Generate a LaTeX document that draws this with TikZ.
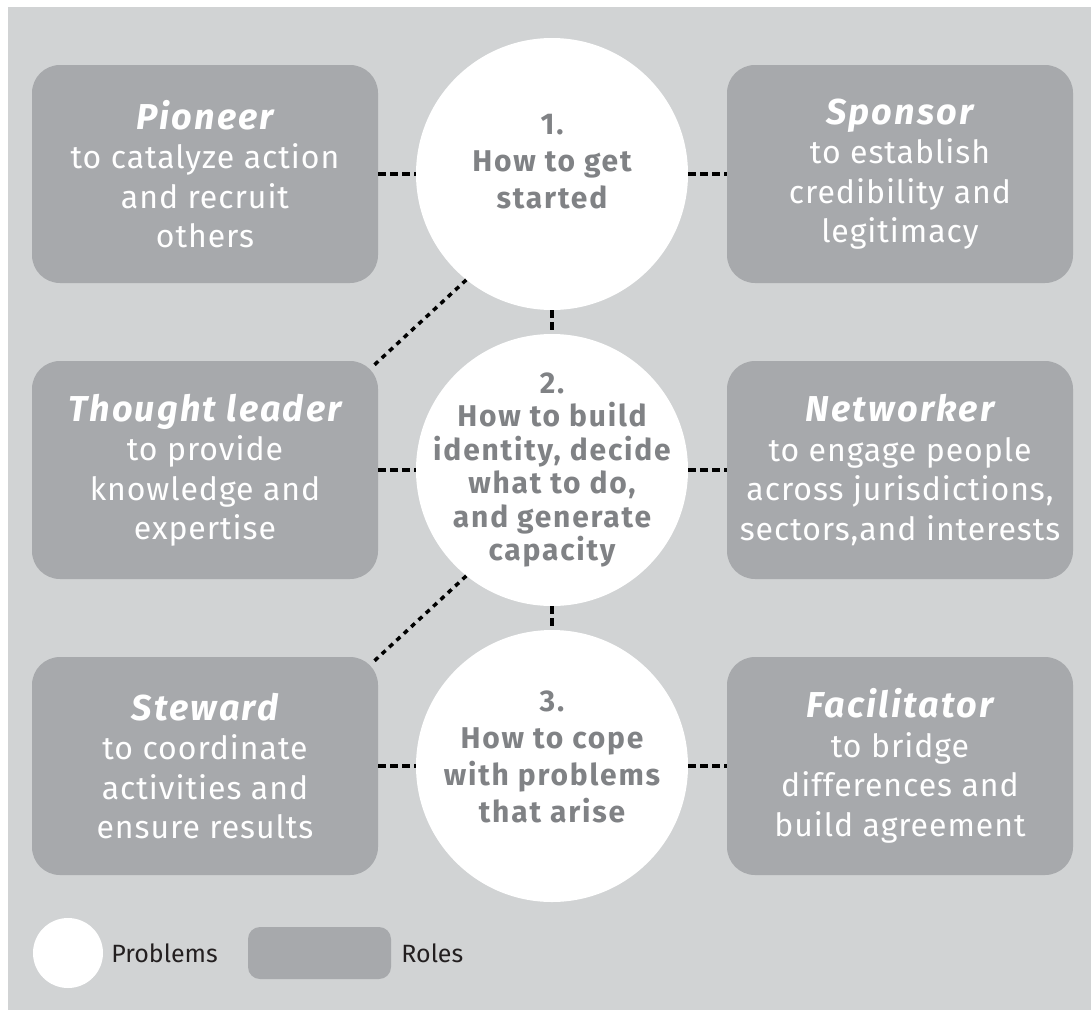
\documentclass[tikz,border=0pt]{standalone}
\usepackage{fontspec}
\setmainfont{Fira Sans}
\newfontfamily\trackedfont[LetterSpace=6]{Fira Sans}
\newfontfamily\bodyfont[LetterSpace=3]{Fira Sans}
\usetikzlibrary{positioning,calc}

\definecolor{panelgray}{HTML}{D1D3D4}
\definecolor{rolegray}{HTML}{A7A9AC}
\definecolor{probtext}{HTML}{808285}
\definecolor{legtext}{HTML}{231F20}

\newcommand{\rolebody}{\bodyfont\fontsize{32}{39.5}\selectfont}
\newcommand{\roletitle}[1]{{\trackedfont\fontsize{36}{40}\selectfont\bfseries\itshape #1}}
\newcommand{\probfont}{\trackedfont\fontsize{30}{37}\selectfont\bfseries}
\newcommand{\probtight}{\trackedfont\fontsize{30}{33.5}\selectfont\bfseries}

\tikzset{
  role/.style={fill=rolegray, rounded corners=28pt, minimum width=346pt,
    minimum height=218pt, inner sep=0pt, text=white, align=center, font=\rolebody},
  problem/.style={circle, fill=white, minimum size=272pt, inner sep=-30pt,
    text=probtext, align=center, font=\probfont},
  link/.style={line width=4pt, dash pattern=on 8pt off 4pt},
  diaglink/.style={line width=3.5pt, dash pattern=on 5pt off 5pt},
}

\begin{document}
\begin{tikzpicture}[x=1pt, y=-1pt]

  % parameters
  \def\leftx{205}      % centre of left role boxes
  \def\rightx{900}     % centre of right role boxes
  \def\midx{552}       % centre of problem circles
  \def\rowa{174}
  \def\rowb{470}
  \def\rowc{766}

  % page and panel
  \useasboundingbox (0,0) rectangle (1091,1012);
  \fill[panelgray] (8,7) rectangle (1091,1010);

  % problems
  \node[problem, text depth=25pt] (prob1) at (\midx,\rowa) {1.\\How to get\\started};
  \node[problem, font=\probtight] (prob2) at (\midx,\rowb) {2.\\How to build\\identity, decide\\what to do,\\and generate\\capacity};
  \node[problem, text depth=19pt] (prob3) at (\midx,\rowc) {3.\\How to cope\\with problems\\that arise};

  % roles
  \node[role] (pioneer) at (\leftx,\rowa) {\roletitle{Pioneer}\\to catalyze action\\and recruit\\others};
  \node[role] (sponsor) at (\rightx,\rowa) {\roletitle{Sponsor}\\to establish\\credibility and\\legitimacy};
  \node[role] (thought) at (\leftx,\rowb) {\roletitle{Thought leader}\\to provide\\knowledge and\\expertise};
  \node[role] (networker) at (\rightx,\rowb) {\roletitle{Networker}\\to engage people\\across jurisdictions,\\sectors,and interests};
  \node[role] (steward) at (\leftx,\rowc) {\roletitle{Steward}\\to coordinate\\activities and\\ensure results};
  \node[role] (facilitator) at (\rightx,\rowc) {\roletitle{Facilitator}\\to bridge\\differences and\\build agreement};

  % dotted links
  \draw[link] (pioneer) -- (prob1);
  \draw[link] (prob1) -- (sponsor);
  \draw[link] (thought) -- (prob2);
  \draw[link] (prob2) -- (networker);
  \draw[link] (steward) -- (prob3);
  \draw[link] (prob3) -- (facilitator);
  \draw[link] (prob1) -- (prob2);
  \draw[link] (prob2) -- (prob3);
  \draw[diaglink] (prob1.231) -- ($(thought.north east)+(-7,7)$);
  \draw[diaglink] (prob2.231) -- ($(steward.north east)+(-7,7)$);

  % legend
  \node[circle, fill=white, minimum size=70pt, inner sep=0pt] (legprob) at (68,953) {};
  \node[right=8pt of legprob, text=legtext, font=\fontsize{25}{30}\selectfont, inner sep=0pt] (legprobtext) {Problems};
  \node[fill=rolegray, rounded corners=12pt, minimum width=143pt, minimum height=52pt, inner sep=0pt] (legrole) at (319.5,953) {};
  \node[right=10pt of legrole, text=legtext, font=\fontsize{25}{30}\selectfont, inner sep=0pt] (legroletext) {Roles};

\end{tikzpicture}
\end{document}
